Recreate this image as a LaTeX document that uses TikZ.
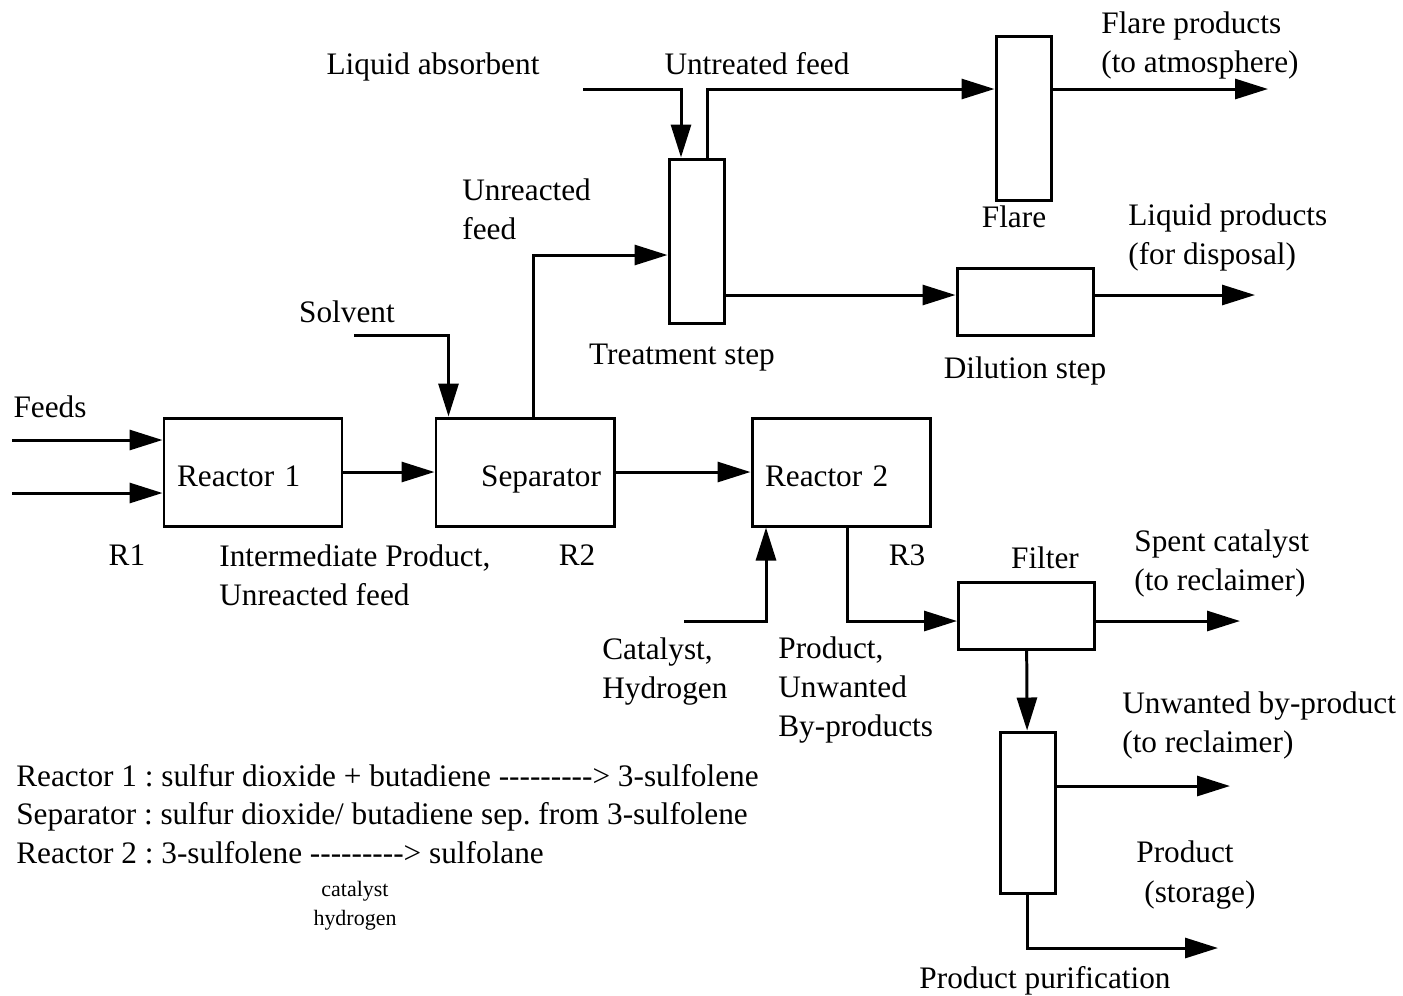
\documentclass[tikz,border=0pt]{standalone}
\usepackage{fontspec}
\setmainfont{Liberation Serif}
\newfontfamily\legendfont{Liberation Serif}[Ligatures=TeXOff]
\usepackage{tikz}
\usetikzlibrary{arrows.meta}
\frenchspacing
\tikzstyle{line} = [draw, line width=1.7pt, -{Triangle[length=0.66cm, width=0.4cm]}]
\tikzstyle{unit} = [draw, line width=1.7pt, minimum width=3.56cm, minimum height=2.16cm, inner xsep=0.26cm, text width=3.04cm, align=left, text height=16.4pt, text depth=0pt]
\tikzstyle{column} = [draw, line width=1.7pt, minimum width=1.1cm, minimum height=3.28cm, inner sep=0]
\tikzstyle{vessel} = [draw, line width=1.7pt, minimum width=2.72cm, minimum height=1.34cm, inner sep=0]
\tikzstyle{caption} = [text height=11.8pt, text depth=0pt]
\tikzstyle{tag} = [align=left, inner sep=0, anchor=west]
\tikzstyle{legend} = [inner sep=0, anchor=base west, font=\legendfont\fontsize{17.8}{22.2}\selectfont]

\begin{document}
\begin{tikzpicture}[x=0.2mm, y=-0.2mm, font=\fontsize{17.8}{22.2}\selectfont]
\useasboundingbox (0, 0) rectangle (1403, 995);

\node [unit] at (253, 472) (reactor1) {Reactor 1};
\node [unit, align=right] at (525, 472) (separator) {Separator};
\node [unit] at (841, 472) (reactor2) {Reactor 2};
\node [column] at (696.5, 241) (treatment) {};
\node [column] at (1023.5, 118) (flare) {};
\node [vessel] at (1025, 302) (dilution) {};
\node [vessel] at (1026.5, 615.5) (filter) {};
\node [column, minimum height=3.22cm] at (1027.5, 812.5) (purification) {};

\node [caption] at (50, 407) (feeds) {Feeds};
\node [caption] at (127, 555) (r1) {R1};
\node [caption] at (577, 555) (r2) {R2};
\node [caption] at (907, 555) (r3) {R3};
\node [tag] at (219, 575) (interm) {Intermediate Product,\\Unreacted feed};
\node [caption] at (347, 312) (solvent) {Solvent};
\node [tag] at (462, 209) (unreacted) {Unreacted\\feed};
\node [caption] at (433, 64) (absorbent) {Liquid absorbent};
\node [caption] at (757, 64) (untreated) {Untreated feed};
\node [caption] at (682, 354) (treatlabel) {Treatment step};
\node [caption] at (1014, 217) (flarelabel) {Flare};
\node [tag] at (1101, 45) (flareprod) {Flare products\\(to atmosphere)};
\node [tag] at (1128, 237) (liqprod) {Liquid products\\(for disposal)};
\node [caption] at (1025, 368) (dillabel) {Dilution step};
\node [caption] at (1045, 558) (filterlabel) {Filter};
\node [tag] at (1134, 563) (spentlabel) {Spent catalyst\\(to reclaimer)};
\node [tag] at (602, 672) (catlabel) {Catalyst,\\Hydrogen};
\node [tag] at (778, 690) (prodlabel) {Product,\\Unwanted\\By-products};
\node [tag] at (1122, 725) (bylabel) {Unwanted by-product\\(to reclaimer)};
\node [tag] at (1136, 875) (storelabel) {Product\\\hspace*{0.16cm}(storage)};
\node [caption] at (1045, 978) (purlabel) {Product purification};

% reactions
\node [legend] at (16, 786) (leg1) {Reactor 1 : sulfur dioxide + butadiene ---------> 3-sulfolene};
\node [legend] at (16, 824) (leg2) {Separator : sulfur dioxide/ butadiene sep. from 3-sulfolene};
\node [legend] at (16, 863) (leg3) {Reactor 2 : 3-sulfolene ---------> sulfolane};
\node [align=center, inner sep=0, font=\fontsize{12.5}{16.5}\selectfont] at (355, 906) (legcat) {catalyst\\hydrogen};

\coordinate (f1) at (12, 440);
\coordinate (f2) at (12, 493);
\path [line] (f1) -- (f1 -| reactor1.west);
\path [line] (f2) -- (f2 -| reactor1.west);
\path [line] (reactor1) -- (separator);

\coordinate (solv) at (354, 335);
\path [line] (solv) -| ([xshift=0.28cm]separator.north west);
\path [line] ([xshift=0.16cm]separator.north) |- ([yshift=-0.28cm]treatment.west);

\coordinate (absorb) at (583, 89);
\path [line] (absorb) -| ([xshift=-0.31cm]treatment.north);
\coordinate (flareout) at (1268, 89);
\path [line] ([xshift=0.21cm]treatment.north) |- (flare.west |- flareout);
\path [line] (flare.east |- flareout) -- (flareout);

\coordinate (liquid) at (1255, 295);
\path [line] (treatment.east |- liquid) -- (dilution.west |- liquid);
\path [line] (dilution.east |- liquid) -- (liquid);

\path [line] (separator) -- (reactor2);
\coordinate (cat) at (684, 621);
\path [line] (cat) -| ([xshift=-1.5cm]reactor2.south);

\coordinate (spent) at (1240, 621);
\path [line] ([xshift=0.12cm]reactor2.south) |- (filter.west |- spent);
\path [line] (filter.east |- spent) -- (spent);
\path [line] (filter) -- (purification);

\coordinate (byprod) at (1230, 786);
\path [line] (purification.east |- byprod) -- (byprod);
\coordinate (store) at (1218, 948);
\path [line] (purification) |- (store);
\end{tikzpicture}
\end{document}
